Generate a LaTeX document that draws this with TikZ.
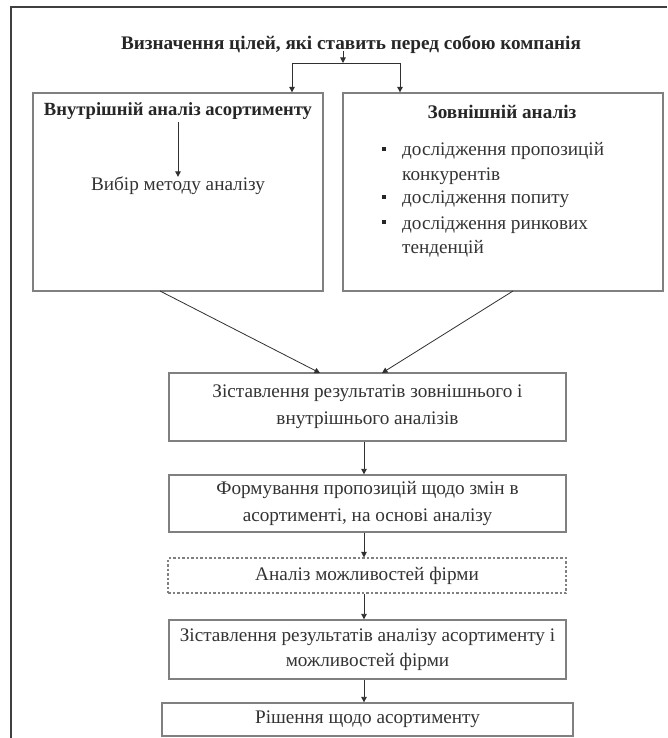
\documentclass[tikz,border=0pt]{standalone}
\usepackage{fontspec}
\setmainfont{Liberation Serif}
\usetikzlibrary{arrows.meta}
\definecolor{boxgray}{HTML}{808080}
\definecolor{framegray}{HTML}{404040}
\definecolor{arrowgray}{HTML}{303030}
\definecolor{txt}{HTML}{333333}
\begin{document}
\begin{tikzpicture}[x=1pt,y=-1pt,
  box/.style={draw=boxgray, line width=1.3pt, rectangle, inner sep=0pt, align=center, text=txt,
              font=\fontsize{19.2}{27}\selectfont},
  dbox/.style={box, dash pattern=on 2.5pt off 2pt, line width=1.1pt},
  arr/.style={-{Triangle[width=5.5pt,length=5.5pt]}, line width=0.8pt, draw=arrowgray},
  ln/.style={line width=0.8pt, draw=arrowgray},
  tx/.style={text=txt, inner sep=0pt, font=\fontsize{19.2}{24}\selectfont},
  btx/.style={text=black!85, inner sep=0pt, font=\bfseries\fontsize{19.2}{22}\selectfont},
  bul/.style={fill=black!85, minimum size=4.5pt, inner sep=0pt, rectangle}]
\useasboundingbox (0,0) rectangle (667,738);
\fill[white] (0,0) rectangle (667,738);
\draw[line width=2pt, framegray] (11,738) -- (11,7) -- (667,7);

% title
\node[btx] (title) at (351,45) {Визначення цілей, які ставить перед собою компанія};

% top boxes
\node[box, minimum width=290pt, minimum height=198pt] (L) at (178,192) {};
\node[box, minimum width=320pt, minimum height=198pt] (R) at (503,192) {};

\node[btx, font=\bfseries\fontsize{18.6}{22}\selectfont] (Lt) at (178,111) {Внутрішній аналіз асортименту};
\node[tx] (Ls) at (178,186) {Вибір методу аналізу};
\draw[arr] (178,122) -- (Ls.north);

\node[btx] (Rt) at (502,112) {Зовнішній аналіз};
\node[bul] (b1) at (384,149) {};
\node[bul] (b2) at (384,197) {};
\node[bul] (b3) at (384,222) {};
\node[tx, anchor=base west] (r1) at (402,156) {дослідження пропозицій};
\node[tx, anchor=base west] (r2) at (402,180) {конкурентів};
\node[tx, anchor=base west] (r3) at (402,204) {дослідження попиту};
\node[tx, anchor=base west] (r4) at (402,229) {дослідження ринкових};
\node[tx, anchor=base west] (r5) at (402,253) {тенденцій};

% branch
\coordinate (bt) at (343,63);
\coordinate (bl) at (292,63);
\coordinate (brr) at (400,63);
\draw[arr] (343,51) -- (bt);
\draw[ln] (bl) -- (brr);
\draw[arr] (bl) -- (bl |- L.north);
\draw[arr] (brr) -- (brr |- R.north);

% lower boxes
\node[box, minimum width=397pt, minimum height=68pt] (C1) at (367.5,407)
  {Зіставлення результатів зовнішнього і\\внутрішнього аналізів};
\node[box, minimum width=397pt, minimum height=57pt] (C2) at (367.5,503.5)
  {Формування пропозицій щодо змін в\\асортименті, на основі аналізу};
\node[dbox, minimum width=398pt, minimum height=35pt] (C3) at (367,575.5)
  {Аналіз можливостей фірми};
\node[box, minimum width=397pt, minimum height=59pt, font=\fontsize{19.2}{25}\selectfont] (C4) at (367.5,649.5)
  {Зіставлення результатів аналізу асортименту і\\можливостей фірми};
\node[box, minimum width=411pt, minimum height=33pt] (C5) at (367.5,719.5)
  {Рішення щодо асортименту};

% connectors
\coordinate (dl) at (320,373);
\coordinate (dr) at (382,373);
\draw[arr] (160,291) -- (dl);
\draw[arr] (513,291) -- (dr);
\draw[arr] (364,0 |- C1.south) -- (364,0 |- C2.north);
\draw[arr] (364,0 |- C2.south) -- (364,0 |- C3.north);
\draw[arr] (364,0 |- C3.south) -- (364,0 |- C4.north);
\draw[arr] (364,0 |- C4.south) -- (364,0 |- C5.north);
\end{tikzpicture}
\end{document}
